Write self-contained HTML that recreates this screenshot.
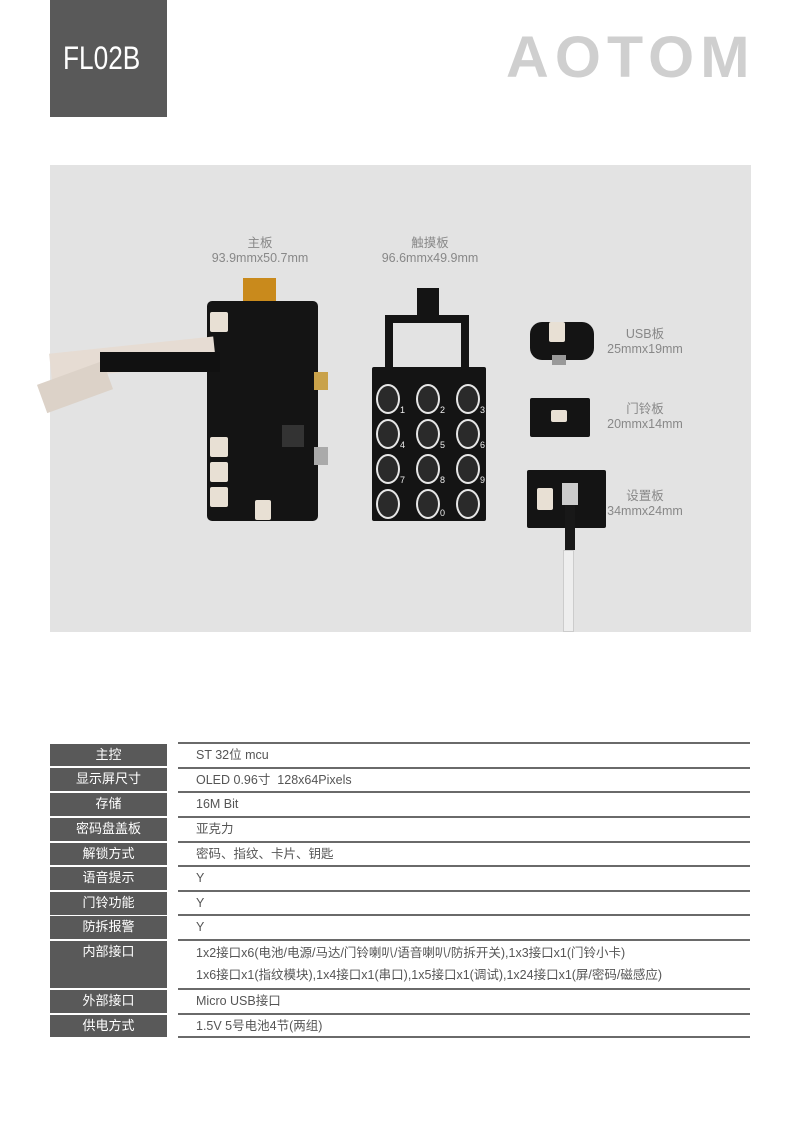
<!DOCTYPE html>
<html><head><meta charset="utf-8"><style>
*{margin:0;padding:0;box-sizing:border-box}
body{width:800px;height:1131px;background:#fff;position:relative;overflow:hidden;font-family:"Liberation Sans","Noto Sans CJK SC",sans-serif}
.a{position:absolute}
.lab{position:absolute;left:50px;width:117px;background:#595959;color:#fff;font-size:13px;text-align:center;line-height:22px}
.val{position:absolute;left:178px;width:572px;border-top:2px solid #6a6a6a;color:#555;font-size:12.5px;padding-left:18px;line-height:22px}
.pt{position:absolute;color:#888;font-size:12.5px;text-align:center;line-height:15px}
.bd{position:absolute;background:#141414;border-radius:5px}
.hole{position:absolute;width:24px;height:30px;border:2px solid #e6e6e6;border-radius:50%;background:#2a2a2a}
.num{position:absolute;color:#eee;font-size:9px}
.con{position:absolute;background:#e8e0d4;border-radius:2px}
</style></head><body>
<div class="a" style="left:50px;top:0;width:117px;height:117px;background:#595959"></div>
<div class="a" style="left:63px;top:38px;color:#fff;font-size:32px;line-height:40px;transform:scaleX(0.82);transform-origin:left">FL02B</div>
<div class="a" style="left:506px;top:28px;color:#cfcfcf;font-size:58px;font-weight:bold;letter-spacing:6px;line-height:60px;transform:scaleX(1.02);transform-origin:left">AOTOM</div>

<div class="a" style="left:50px;top:165px;width:701px;height:467px;background:#e3e3e3"></div>
<div class="pt" style="left:190px;top:236px;width:140px">主板<br>93.9mmx50.7mm</div>
<div class="pt" style="left:360px;top:236px;width:140px">触摸板<br>96.6mmx49.9mm</div>
<div class="pt" style="left:600px;top:327px;width:90px">USB板<br>25mmx19mm</div>
<div class="pt" style="left:600px;top:402px;width:90px">门铃板<br>20mmx14mm</div>
<div class="pt" style="left:600px;top:489px;width:90px">设置板<br>34mmx24mm</div>

<!-- main board -->
<div class="a" style="left:243px;top:278px;width:33px;height:30px;background:#c98a1c"></div>
<div class="bd" style="left:207px;top:301px;width:111px;height:220px"></div>
<div class="a" style="left:50px;top:345px;width:165px;height:26px;background:#e6dcd3;transform:rotate(-6deg)"></div>
<div class="a" style="left:40px;top:372px;width:70px;height:30px;background:#dcd2c8;transform:rotate(-20deg)"></div>
<div class="a" style="left:100px;top:352px;width:120px;height:20px;background:#111"></div>
<div class="con" style="left:210px;top:312px;width:18px;height:20px"></div>
<div class="con" style="left:210px;top:437px;width:18px;height:20px"></div>
<div class="con" style="left:210px;top:462px;width:18px;height:20px"></div>
<div class="con" style="left:210px;top:487px;width:18px;height:20px"></div>
<div class="con" style="left:255px;top:500px;width:16px;height:20px"></div>
<div class="a" style="left:282px;top:425px;width:22px;height:22px;background:#333"></div>
<div class="a" style="left:314px;top:372px;width:14px;height:18px;background:#c9a24a"></div>
<div class="a" style="left:314px;top:447px;width:14px;height:18px;background:#aaa"></div>

<!-- keypad -->
<div class="a" style="left:417px;top:288px;width:22px;height:30px;background:#141414"></div>
<div class="a" style="left:385px;top:315px;width:84px;height:55px;border:8px solid #141414;border-bottom:none"></div>
<div class="bd" style="left:372px;top:367px;width:114px;height:154px;border-radius:2px"></div>
<div class="hole" style="left:376px;top:384px"></div><div class="hole" style="left:416px;top:384px"></div><div class="hole" style="left:456px;top:384px"></div>
<div class="hole" style="left:376px;top:419px"></div><div class="hole" style="left:416px;top:419px"></div><div class="hole" style="left:456px;top:419px"></div>
<div class="hole" style="left:376px;top:454px"></div><div class="hole" style="left:416px;top:454px"></div><div class="hole" style="left:456px;top:454px"></div>
<div class="hole" style="left:376px;top:489px"></div><div class="hole" style="left:416px;top:489px"></div><div class="hole" style="left:456px;top:489px"></div>
<div class="num" style="left:400px;top:405px">1</div><div class="num" style="left:440px;top:405px">2</div><div class="num" style="left:480px;top:405px">3</div>
<div class="num" style="left:400px;top:440px">4</div><div class="num" style="left:440px;top:440px">5</div><div class="num" style="left:480px;top:440px">6</div>
<div class="num" style="left:400px;top:475px">7</div><div class="num" style="left:440px;top:475px">8</div><div class="num" style="left:480px;top:475px">9</div>
<div class="num" style="left:440px;top:508px">0</div>

<!-- small boards -->
<div class="bd" style="left:530px;top:322px;width:64px;height:38px;border-radius:12px"></div>
<div class="con" style="left:549px;top:322px;width:16px;height:20px"></div>
<div class="a" style="left:552px;top:355px;width:14px;height:10px;background:#999"></div>
<div class="bd" style="left:530px;top:398px;width:60px;height:39px;border-radius:2px"></div>
<div class="con" style="left:551px;top:410px;width:16px;height:12px"></div>
<div class="bd" style="left:527px;top:470px;width:79px;height:58px;border-radius:2px"></div>
<div class="con" style="left:537px;top:488px;width:16px;height:22px"></div>
<div class="a" style="left:562px;top:483px;width:16px;height:22px;background:#ccc"></div>
<div class="a" style="left:565px;top:505px;width:10px;height:45px;background:#181818"></div>
<div class="a" style="left:563px;top:550px;width:11px;height:82px;background:#eee;border:1px solid #ccc"></div>

<!-- table -->
<div class="lab" style="top:744px;height:22px">主控</div>
<div class="lab" style="top:768px;height:23px">显示屏尺寸</div>
<div class="lab" style="top:793px;height:23px">存储</div>
<div class="lab" style="top:818px;height:23px">密码盘盖板</div>
<div class="lab" style="top:843px;height:22px">解锁方式</div>
<div class="lab" style="top:867px;height:23px">语音提示</div>
<div class="lab" style="top:892px;height:23px">门铃功能</div>
<div class="lab" style="top:916px;height:23px">防拆报警</div>
<div class="lab" style="top:941px;height:47px">内部接口</div>
<div class="lab" style="top:990px;height:23px">外部接口</div>
<div class="lab" style="top:1015px;height:22px">供电方式</div>

<div class="val" style="top:742px;height:25px">ST 32位 mcu</div>
<div class="val" style="top:767px;height:25px">OLED 0.96寸&nbsp; 128x64Pixels</div>
<div class="val" style="top:791px;height:25px">16M Bit</div>
<div class="val" style="top:816px;height:25px">亚克力</div>
<div class="val" style="top:841px;height:25px">密码、指纹、卡片、钥匙</div>
<div class="val" style="top:865px;height:25px">Y</div>
<div class="val" style="top:890px;height:25px">Y</div>
<div class="val" style="top:914px;height:25px">Y</div>
<div class="val" style="top:939px;height:49px;line-height:22px;padding-top:1px">1x2接口x6(电池/电源/马达/门铃喇叭/语音喇叭/防拆开关),1x3接口x1(门铃小卡)<br>1x6接口x1(指纹模块),1x4接口x1(串口),1x5接口x1(调试),1x24接口x1(屏/密码/磁感应)</div>
<div class="val" style="top:988px;height:25px">Micro USB接口</div>
<div class="val" style="top:1013px;height:25px;border-bottom:2px solid #6a6a6a">1.5V 5号电池4节(两组)</div>
</body></html>
